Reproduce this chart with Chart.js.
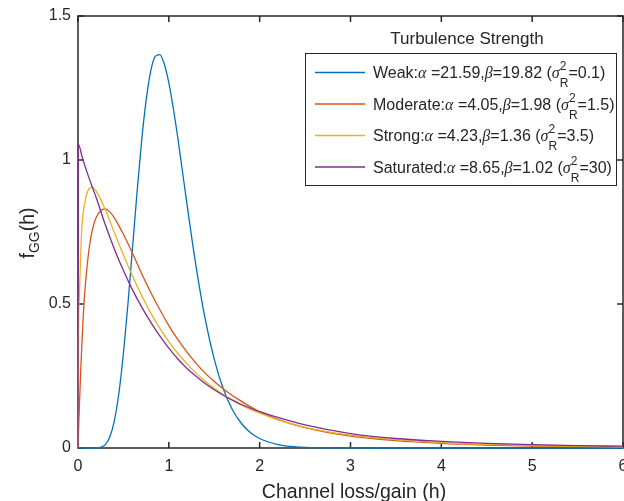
<!DOCTYPE html>
<html lang="en">
<head>
<meta charset="UTF-8" />
<title>Gamma-Gamma pdf</title>
<script src="https://cdn.jsdelivr.net/npm/chart.js"></script>
<style>
  html, body { margin: 0; padding: 0; background: #fff; overflow: hidden; }
  canvas { display: block; }
</style>
</head>
<body>
<canvas id="ggChart" width="624" height="501"></canvas>
<script>
  // channel loss/gain h and f_GG(h)
  const hWeak = [0, 0.2, 0.25, 0.3, 0.35, 0.4, 0.45, 0.5, 0.55, 0.6, 0.65, 0.7, 0.75, 0.8, 0.85, 0.9, 0.95, 1.0, 1.05, 1.1, 1.15, 1.2, 1.3, 1.4, 1.5, 1.6, 1.7, 1.8, 1.9, 2.0, 2.2, 2.4, 2.7, 3, 4, 5, 6];
  const fWeak = [0, 0.0003, 0.0024, 0.0117, 0.038, 0.094, 0.19, 0.328, 0.501, 0.694, 0.888, 1.065, 1.207, 1.308, 1.36, 1.366, 1.333, 1.268, 1.178, 1.074, 0.96, 0.846, 0.63, 0.448, 0.308, 0.205, 0.133, 0.085, 0.053, 0.033, 0.012, 0.0042, 0.0009, 0.0002, 0, 0, 0];

  const hModerate = [0, 0.01, 0.03, 0.05, 0.07, 0.1, 0.13, 0.16, 0.2, 0.25, 0.3, 0.35, 0.4, 0.5, 0.6, 0.7, 0.8, 0.9, 1.0, 1.1, 1.2, 1.3, 1.4, 1.5, 1.6, 1.7, 1.8, 1.9, 2.0, 2.2, 2.5, 3, 3.5, 4, 4.5, 5, 5.5, 6];
  const fModerate = [0, 0.1, 0.27, 0.41, 0.52, 0.63, 0.71, 0.76, 0.8, 0.824, 0.83, 0.82, 0.799, 0.742, 0.676, 0.606, 0.541, 0.481, 0.425, 0.376, 0.333, 0.294, 0.26, 0.231, 0.205, 0.182, 0.162, 0.143, 0.126, 0.0995, 0.0705, 0.041, 0.0255, 0.0162, 0.0105, 0.0069, 0.0046, 0.0031];

  const hStrong = [0, 0.005, 0.015, 0.04, 0.08, 0.12, 0.15, 0.2, 0.3, 0.4, 0.5, 0.6, 0.7, 0.8, 0.9, 1.0, 1.1, 1.2, 1.3, 1.4, 1.5, 1.6, 1.7, 1.8, 1.9, 2.0, 2.2, 2.5, 3, 3.5, 4, 4.5, 5, 5.5, 6];
  const fStrong = [0, 0.4, 0.53, 0.75, 0.86, 0.9, 0.905, 0.892, 0.828, 0.748, 0.67, 0.597, 0.53, 0.469, 0.416, 0.369, 0.328, 0.292, 0.26, 0.232, 0.207, 0.185, 0.166, 0.149, 0.134, 0.121, 0.098, 0.072, 0.045, 0.029, 0.019, 0.0125, 0.0085, 0.0058, 0.004];

  const hSaturated = [0, 0.003, 0.05, 0.1, 0.15, 0.2, 0.3, 0.4, 0.5, 0.6, 0.7, 0.8, 0.9, 1.0, 1.1, 1.2, 1.3, 1.4, 1.5, 1.6, 1.7, 1.8, 1.9, 2.0, 2.2, 2.5, 3, 3.5, 4, 4.5, 5, 5.5, 6];
  const fSaturated = [0, 1.055, 1.005, 0.957, 0.912, 0.87, 0.776, 0.691, 0.616, 0.549, 0.49, 0.437, 0.389, 0.347, 0.309, 0.276, 0.249, 0.224, 0.202, 0.183, 0.166, 0.151, 0.138, 0.126, 0.106, 0.08, 0.05, 0.033, 0.023, 0.016, 0.0115, 0.0085, 0.0062];

  const seriesNames = ['Weak', 'Moderate', 'Strong', 'Saturated'];
  const alphaVals = ['21.59', '4.05', '4.23', '8.65'];
  const betaVals = ['19.82', '1.98', '1.36', '1.02'];
  const sigmaVals = ['0.1', '1.5', '3.5', '30'];
  const seriesColors = ['#0072BD', '#D95319', '#EDB120', '#7E2F8E'];

  const xTicks = [0, 1, 2, 3, 4, 5, 6];
  const yTicks = [0, 0.5, 1, 1.5];

  const SANS = "'Liberation Sans', Arial, sans-serif";
  const SERIF = "'Liberation Serif', 'Times New Roman', serif";
  const INK = '#262626';

  function pts(hs, fs) {
    return hs.map((h, i) => ({ x: h, y: fs[i] }));
  }

  // draw a run of text pieces, returns end x
  function drawRun(ctx, x, y, pieces) {
    pieces.forEach(p => {
      ctx.font = p.font;
      if (p.stack) {
        ctx.fillText(p.sup, x, y + p.supDy);
        ctx.fillText(p.sub, x, y + p.subDy);
        x += Math.max(ctx.measureText(p.sup).width, ctx.measureText(p.sub).width);
      } else {
        ctx.fillText(p.t, x, y + (p.dy || 0));
        x += ctx.measureText(p.t).width;
      }
    });
    return x;
  }

  const matlabLook = {
    id: 'matlabLook',
    beforeDatasetsDraw(chart) {
      const { ctx, chartArea: a, scales } = chart;
      ctx.save();
      ctx.strokeStyle = INK;
      ctx.lineWidth = 1.5;
      ctx.strokeRect(a.left, a.top, a.right - a.left, a.bottom - a.top);
      ctx.beginPath();
      xTicks.forEach(v => {
        const px = scales.x.getPixelForValue(v);
        ctx.moveTo(px, a.bottom); ctx.lineTo(px, a.bottom - 6);
        ctx.moveTo(px, a.top); ctx.lineTo(px, a.top + 6);
      });
      yTicks.forEach(v => {
        const py = scales.y.getPixelForValue(v);
        ctx.moveTo(a.left, py); ctx.lineTo(a.left + 6, py);
        ctx.moveTo(a.right, py); ctx.lineTo(a.right - 6, py);
      });
      ctx.stroke();
      ctx.restore();
    },
    afterDraw(chart) {
      const { ctx, chartArea: a } = chart;
      ctx.save();
      ctx.fillStyle = INK;
      ctx.textBaseline = 'alphabetic';

      // x axis title
      ctx.font = '19.5px ' + SANS;
      ctx.textAlign = 'center';
      ctx.fillText('Channel loss/gain (h)', 354, 498);

      // y axis title with subscript
      ctx.textAlign = 'left';
      ctx.translate(34, 233);
      ctx.rotate(-Math.PI / 2);
      const yParts = [
        { t: 'f', font: '19.5px ' + SANS },
        { t: 'GG', font: '14px ' + SANS, dy: 5 },
        { t: '(h)', font: '19.5px ' + SANS }
      ];
      let w = 0;
      yParts.forEach(p => { ctx.font = p.font; w += ctx.measureText(p.t).width; });
      drawRun(ctx, -w / 2, 0, yParts);
      ctx.setTransform(1, 0, 0, 1, 0, 0);

      // legend
      const bx = 305, by = 53, bw = 311, bh = 132;
      ctx.font = '17px ' + SANS;
      ctx.textAlign = 'center';
      ctx.fillText('Turbulence Strength', 467, 44);
      ctx.fillStyle = '#fff';
      ctx.fillRect(bx, by, bw, bh);
      ctx.strokeStyle = INK;
      ctx.lineWidth = 1;
      ctx.strokeRect(bx + 0.5, by + 0.5, bw, bh);
      ctx.textAlign = 'left';
      const rowY = [72.5, 104, 135.5, 167];
      seriesNames.forEach((name, i) => {
        const y = rowY[i];
        ctx.strokeStyle = seriesColors[i];
        ctx.lineWidth = 1.3;
        ctx.beginPath();
        ctx.moveTo(315, y); ctx.lineTo(365, y);
        ctx.stroke();
        ctx.fillStyle = INK;
        const f = '16px ' + SANS, g = 'italic 16px ' + SERIF;
        drawRun(ctx, 373, y + 5.5, [
          { t: name + ':', font: f },
          { t: '\u03b1', font: g },
          { t: ' =' + alphaVals[i] + ',', font: f },
          { t: '\u03b2', font: g },
          { t: '=' + betaVals[i] + ' (', font: f },
          { t: '\u03c3', font: g },
          { stack: true, sup: '2', sub: 'R', font: '12px ' + SANS, supDy: -8, subDy: 9 },
          { t: '=' + sigmaVals[i] + ')', font: f }
        ]);
      });
      ctx.restore();
    }
  };

  const ctx = document.getElementById('ggChart').getContext('2d');
  new Chart(ctx, {
    type: 'scatter',
    data: {
      datasets: [
        { label: seriesNames[0], data: pts(hWeak, fWeak), borderColor: seriesColors[0], order: 4 },
        { label: seriesNames[1], data: pts(hModerate, fModerate), borderColor: seriesColors[1], order: 3 },
        { label: seriesNames[2], data: pts(hStrong, fStrong), borderColor: seriesColors[2], order: 2 },
        { label: seriesNames[3], data: pts(hSaturated, fSaturated), borderColor: seriesColors[3], order: 1 }
      ]
    },
    options: {
      responsive: false,
      animation: false,
      events: [],
      datasets: {
        scatter: {
          showLine: true,
          pointRadius: 0,
          borderWidth: 1.3,
          cubicInterpolationMode: 'monotone',
          clip: false
        }
      },
      layout: { padding: { top: 16, right: 1, left: 0, bottom: 0 } },
      plugins: { legend: { display: false }, tooltip: { enabled: false } },
      scales: {
        x: {
          type: 'linear',
          min: 0, max: 6,
          grid: { display: false, drawTicks: false },
          border: { display: false },
          afterBuildTicks: s => { s.ticks = xTicks.map(v => ({ value: v })); },
          afterFit: s => { s.height = 53; s.paddingLeft = 0; s.paddingRight = 0; },
          ticks: { color: INK, font: { family: SANS, size: 16 }, padding: 9, maxRotation: 0, callback: v => String(v) }
        },
        y: {
          type: 'linear',
          min: 0, max: 1.5,
          grid: { display: false, drawTicks: false },
          border: { display: false },
          afterBuildTicks: s => { s.ticks = yTicks.map(v => ({ value: v })); },
          afterFit: s => { s.width = 78; s.paddingTop = 0; s.paddingBottom = 0; },
          ticks: { color: INK, font: { family: SANS, size: 16 }, padding: 7, callback: v => String(v) }
        }
      }
    },
    plugins: [matlabLook]
  });
</script>
</body>
</html>
